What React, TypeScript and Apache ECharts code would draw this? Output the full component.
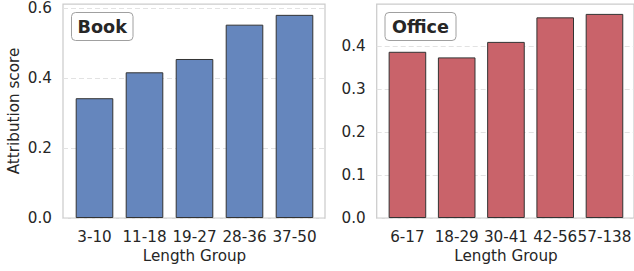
import React, { useEffect, useRef } from "react";
import * as echarts from "echarts";

const bookCategories = ["3-10", "11-18", "19-27", "28-36", "37-50"];
const bookValues = [0.342, 0.416, 0.454, 0.552, 0.58];
const officeCategories = ["6-17", "18-29", "30-41", "42-56", "57-138"];
const officeValues = [0.386, 0.373, 0.409, 0.466, 0.474];
const bookTickValues = [0, 0.2, 0.4, 0.6];
const officeTickValues = [0, 0.1, 0.2, 0.3, 0.4];
const bookRange = { min: 0, max: 0.611 };
const officeRange = { min: 0, max: 0.497 };

const FONT = "DejaVu Sans";
const TXT = "#262626";
const FS = 15.2;

export default function App() {
  const ref = useRef<HTMLDivElement>(null);
  useEffect(() => {
    if (!ref.current) return;
    const chart = echarts.init(ref.current, undefined, { renderer: "svg" });
    const plotTop = 4;
    const plotH = 214;
    const grids = [
      { left: 63, top: plotTop, width: 262, height: plotH, show: true, borderColor: "#cccccc", borderWidth: 1.25, z: 0 },
      { left: 69.5, top: plotTop, width: 250, height: plotH },
      { left: 376.7, top: plotTop, width: 262, height: plotH, show: true, borderColor: "#cccccc", borderWidth: 1.25, z: 0 },
      { left: 382.8, top: plotTop, width: 250, height: plotH },
    ];
    const outerX = (gi: number) => ({
      type: "value", gridIndex: gi, min: 0, max: 1, show: false,
    });
    const innerX = (gi: number, cats: string[]) => ({
      type: "category", gridIndex: gi, data: cats,
      axisLine: { show: false }, axisTick: { show: false },
      axisLabel: { color: TXT, fontFamily: FONT, fontSize: FS, margin: 11, interval: 0 },
      name: "Length Group", nameLocation: "middle", nameGap: 30,
      nameTextStyle: { color: TXT, fontFamily: FONT, fontSize: FS },
    });
    const outerY = (gi: number, r: any, ticks: number[], name?: string) => ({
      type: "value", gridIndex: gi, min: r.min, max: r.max,
      axisLine: { show: false },
      axisTick: { show: false, customValues: ticks },
      axisLabel: { color: TXT, fontFamily: FONT, fontSize: FS, margin: 11, customValues: ticks, formatter: (v: number) => v.toFixed(1) },
      splitLine: { show: true, lineStyle: { color: "#e2e2e2", type: [5, 3], width: 1 } },
      name, nameLocation: "middle", nameGap: 42,
      nameTextStyle: { color: TXT, fontFamily: FONT, fontSize: FS },
    });
    const innerY = (gi: number, r: any) => ({
      type: "value", gridIndex: gi, min: r.min, max: r.max, show: false, splitLine: { show: false },
    });
    const label = (x: number, w: number, text: string) => ({
      type: "group",
      children: [
        { type: "rect", shape: { x, y: 12.5, width: w, height: 28, r: 4 }, style: { fill: "#ffffff", stroke: "#a0a0a0", lineWidth: 1 }, z: 10 },
        { type: "text", x: x + w / 2, y: 26.5, style: { text, fontFamily: FONT, fontWeight: "bold", fontSize: 17.6, fill: TXT, align: "center", verticalAlign: "middle" }, z: 11 },
      ],
    });
    chart.setOption({
      animation: false,
      grid: grids,
      xAxis: [outerX(0), innerX(1, bookCategories), outerX(2), innerX(3, officeCategories)],
      yAxis: [
        outerY(0, bookRange, bookTickValues, "Attribution score"),
        innerY(1, bookRange),
        outerY(2, officeRange, officeTickValues),
        innerY(3, officeRange),
      ],
      series: [
        {
          type: "bar", xAxisIndex: 1, yAxisIndex: 1, data: bookValues, barWidth: 37.6,
          itemStyle: { color: "#6586bd", borderColor: "#333333", borderWidth: 1 }, z: 5,
        },
        {
          type: "bar", xAxisIndex: 3, yAxisIndex: 3, data: officeValues, barWidth: 37.6,
          itemStyle: { color: "#c9636a", borderColor: "#333333", borderWidth: 1 }, z: 5,
        },
      ],
      graphic: [label(71.5, 61.5, "Book"), label(385, 71, "Office")],
    });
    return () => chart.dispose();
  }, []);
  return <div ref={ref} style={{ position: "fixed", left: 0, top: 0, width: 634, height: 271, background: "#fff" }} />;
}
